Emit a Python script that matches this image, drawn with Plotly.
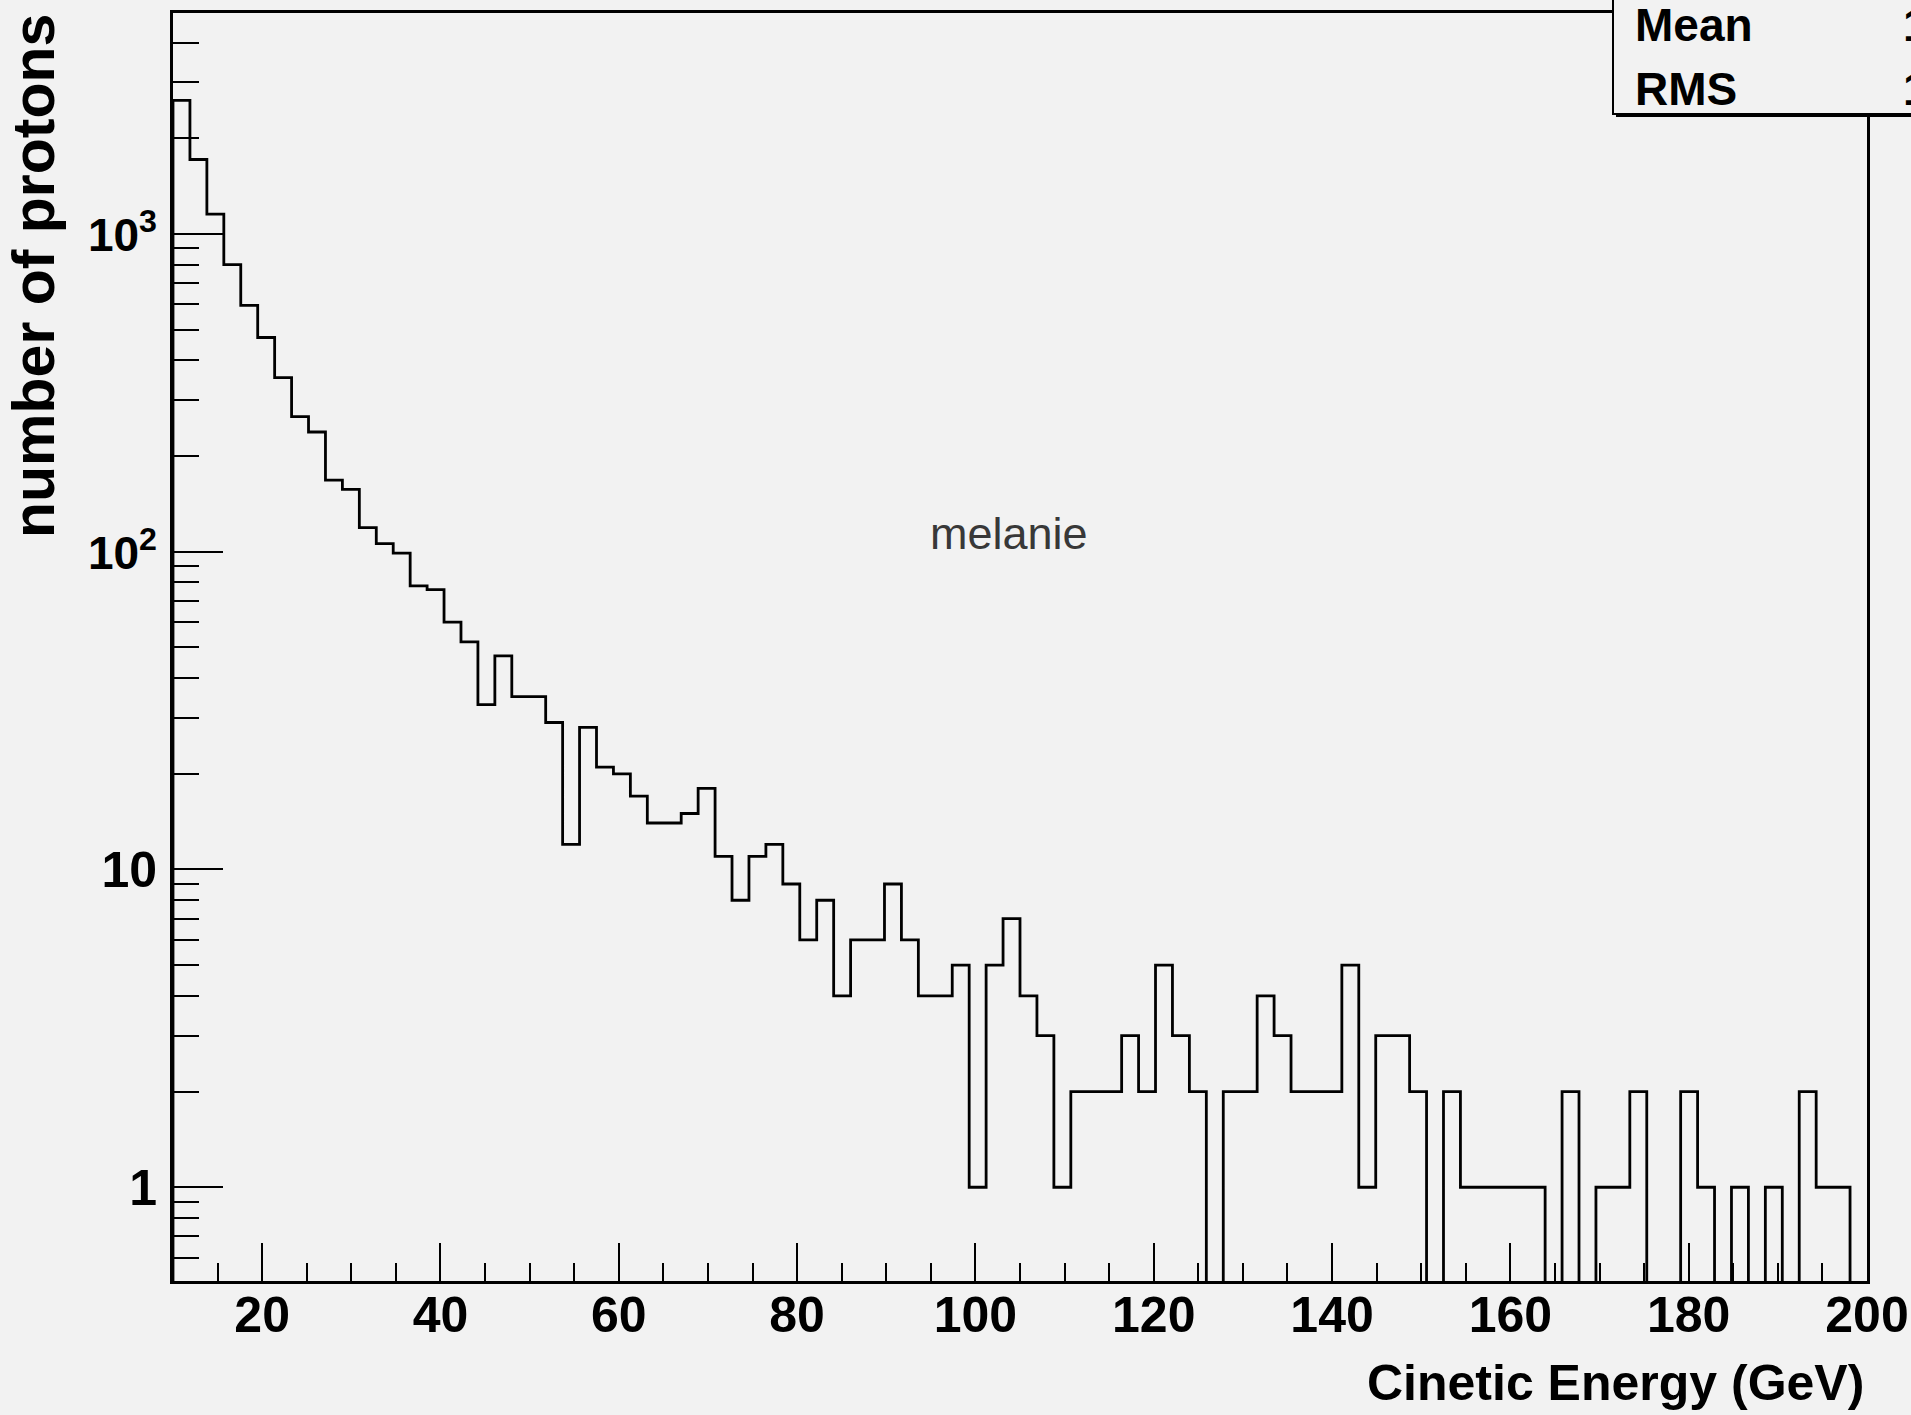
import plotly.graph_objects as go

# ---------------- data ----------------
x_min, x_max, n_bins = 10.0, 200.0, 100
counts = [2630, 1714, 1153, 800, 596, 472, 353, 266, 238, 168,
          157, 119, 106, 99, 78, 76, 60, 52, 33, 47,
          35, 35, 29, 12, 28, 21, 20, 17, 14, 14,
          15, 18, 11, 8, 11, 12, 9, 6, 8, 4,
          6, 6, 9, 6, 4, 4, 5, 1, 5, 7,
          4, 3, 1, 2, 2, 2, 3, 2, 5, 3,
          2, 0, 2, 2, 4, 3, 2, 2, 2, 5,
          1, 3, 3, 2, 0, 2, 1, 1, 1, 1,
          1, 0, 2, 0, 1, 1, 2, 0, 0, 2,
          1, 0, 1, 0, 1, 0, 2, 1, 1, 0]

x_tick_vals = [20, 40, 60, 80, 100, 120, 140, 160, 180, 200]
x_tick_text = ["20", "40", "60", "80", "100", "120", "140", "160", "180", "200"]
x_minor_vals = [15, 25, 30, 35, 45, 50, 55, 65, 70, 75, 85, 90, 95, 105, 110, 115,
                125, 130, 135, 145, 150, 155, 165, 170, 175, 185, 190, 195]
y_tick_vals = [1, 10, 100, 1000]
y_tick_text = ["1", "10",
               '<span style="font-size:46px">10<sup>2</sup></span>',
               '<span style="font-size:46px">10<sup>3</sup></span>']
y_minor_vals = [0.6, 0.7, 0.8, 0.9, 2, 3, 4, 5, 6, 7, 8, 9,
                20, 30, 40, 50, 60, 70, 80, 90,
                200, 300, 400, 500, 600, 700, 800, 900, 2000, 3000, 4000]

x_title = "Cinetic Energy (GeV)"
y_title = "number of protons"
label_text = "melanie"
stat_names = ["Mean", "RMS"]
stat_values = ["1", "1"]

# ---------------- layout geometry ----------------
W, H = 1911, 1415
ML, MR, MT, MB = 173, 44, 13, 134
PW, PH = W - ML - MR, H - MT - MB


def px(xp):
    return (xp - ML) / PW


def py(yp):
    return (H - MB - yp) / PH


BG = "#f2f2f2"
BOLD = "Liberation Sans, Arial, Helvetica"
REG = "Liberation Sans, Arial, Helvetica"

# step outline of histogram (zero bins drop below the axis)
bw = (x_max - x_min) / n_bins
edges = [x_min + i * bw for i in range(n_bins + 1)]
floor = 0.01
vals = [c if c > 0 else floor for c in counts]
xs = [edges[0]] + edges[:n_bins] + [edges[n_bins]]
ys = [floor] + vals + [floor]

fig = go.Figure()
fig.add_trace(go.Scatter(x=xs, y=ys, mode="lines", line=dict(shape="hv", color="black", width=2.8),
                         hoverinfo="skip", showlegend=False))

fig.update_layout(
    width=W, height=H,
    margin=dict(l=ML, r=MR, t=MT, b=MB, pad=0, autoexpand=False),
    paper_bgcolor=BG, plot_bgcolor=BG,
    showlegend=False,
)

fig.update_xaxes(
    range=[x_min, x_max + 0.001], showgrid=False, zeroline=False, automargin=False,
    showline=True, linecolor="black", linewidth=3, mirror=True,
    tickmode="array", tickvals=x_tick_vals, ticktext=x_tick_text,
    ticks="inside", ticklen=38, tickwidth=2, tickcolor="black",
    tickfont=dict(family=BOLD, size=50, color="black", weight="bold"),
    ticklabelstandoff=-12,
    minor=dict(tickmode="array", tickvals=x_minor_vals, ticks="inside", ticklen=18,
               tickwidth=2, tickcolor="black", showgrid=False),
)

fig.update_yaxes(
    type="log", range=[-0.295, 3.695], showgrid=False, zeroline=False, automargin=False,
    showline=True, linecolor="black", linewidth=3, mirror=True,
    tickmode="array", tickvals=y_tick_vals, ticktext=y_tick_text,
    ticks="inside", ticklen=50, tickwidth=2, tickcolor="black",
    tickfont=dict(family=BOLD, size=50, color="black", weight="bold"),
    ticklabelstandoff=3,
    minor=dict(tickmode="array", tickvals=y_minor_vals, ticks="inside", ticklen=26,
               tickwidth=2, tickcolor="black", showgrid=False),
)

# axis titles
fig.add_annotation(x=px(1866), y=py(1383), xref="paper", yref="paper", text=x_title,
                   showarrow=False, xanchor="right", yanchor="middle",
                   font=dict(family=BOLD, size=50, color="black", weight="bold"))
fig.add_annotation(x=px(34), y=py(12), xref="paper", yref="paper", text=y_title,
                   showarrow=False, xanchor="center", yanchor="top", textangle=-90,
                   font=dict(family=BOLD, size=59, color="black", weight="bold"))

# free text
fig.add_annotation(x=px(1009), y=py(533), xref="paper", yref="paper", text=label_text,
                   showarrow=False, xanchor="center", yanchor="middle",
                   font=dict(family=REG, size=45, color="#383838"))

# stats box with shadow
fig.add_shape(type="rect", xref="paper", yref="paper",
              x0=px(1616), x1=px(1960), y0=py(117), y1=py(-10),
              fillcolor="black", line=dict(width=0), layer="above")
fig.add_shape(type="rect", xref="paper", yref="paper",
              x0=px(1613), x1=px(1957), y0=py(114), y1=py(-13),
              fillcolor=BG, line=dict(color="black", width=2), layer="above")
for name, val, yc in zip(stat_names, stat_values, [25, 89]):
    fig.add_annotation(x=px(1633), y=py(yc), xref="paper", yref="paper", text=name,
                       showarrow=False, xanchor="left", yanchor="middle",
                       font=dict(family=BOLD, size=46, color="black", weight="bold"))
    fig.add_annotation(x=px(1901), y=py(yc), xref="paper", yref="paper", text=val,
                       showarrow=False, xanchor="left", yanchor="middle",
                       font=dict(family=BOLD, size=46, color="black", weight="bold"))

fig.write_html("out.html")
